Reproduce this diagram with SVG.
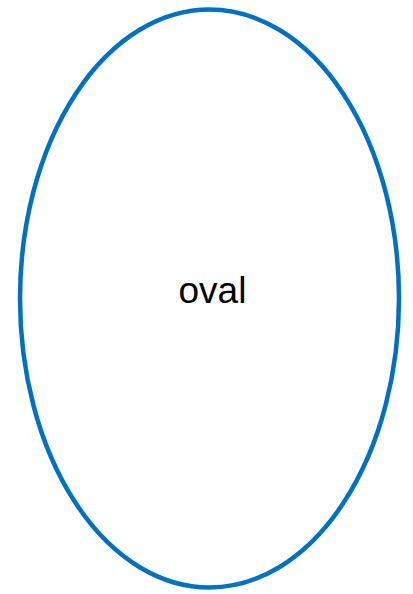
<svg xmlns="http://www.w3.org/2000/svg" width="413" height="594" viewBox="0 0 413 594">
<style>
.shape{fill:#FFFFFF;stroke:#0070C0;stroke-width:4.5}
.label{font-family:"Liberation Sans",Arial,sans-serif;font-size:37px;fill:#000000;text-anchor:middle}
</style>
<rect width="413" height="594" fill="#FFFFFF"/>
<g id="oval">
<ellipse class="shape" cx="209.5" cy="298.5" rx="189.5" ry="289"/>
<text class="label" x="212.5" y="303">oval</text>
</g>
<g id="connectors"/>
</svg>
